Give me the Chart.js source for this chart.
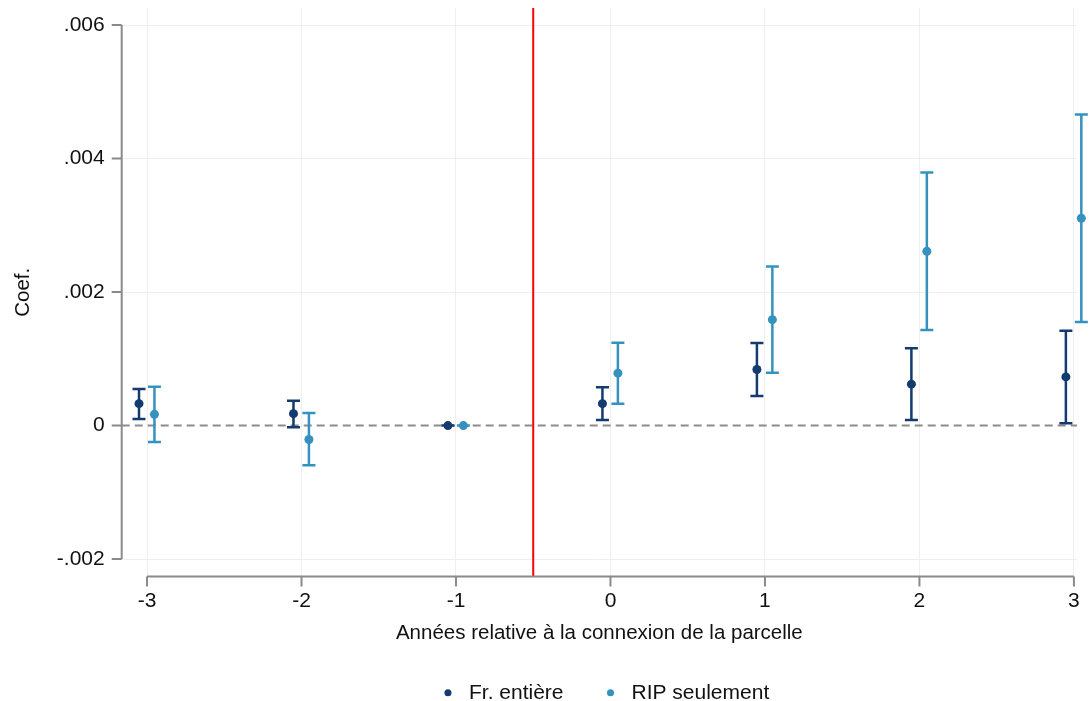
<!DOCTYPE html>
<html>
<head>
<meta charset="utf-8">
<script src="https://cdn.jsdelivr.net/npm/chart.js@4.4.0/dist/chart.umd.min.js"></script>
<style>
  html, body { margin: 0; padding: 0; background: #fff; }
  #wrap { width: 1091px; height: 701px; position: relative; }
</style>
</head>
<body>
<div id="wrap"><canvas id="chart"></canvas></div>
<script>
// relative years
const years = [-3, -2, -1, 0, 1, 2, 3];
const yTicks = [-0.002, 0, 0.002, 0.004, 0.006];

// Fr. entière
const frCoef = [0.000328, 0.000178, 0, 0.000328, 0.000839, 0.00062, 0.000729];
const frLow  = [0.000098, -0.000027, 0, 0.000083, 0.000444, 0.000083, 0.000033];
const frHigh = [0.000549, 0.000373, 0, 0.000574, 0.001236, 0.00116, 0.00142];

// RIP seulement
const ripCoef = [0.000168, -0.000208, 0, 0.000785, 0.001586, 0.00261, 0.003105];
const ripLow  = [-0.000248, -0.000594, 0, 0.000328, 0.00079, 0.00143, 0.00155];
const ripHigh = [0.000583, 0.000188, 0, 0.00124, 0.002383, 0.00379, 0.00466];

const treatLine = -0.5;
const darkBlue = "#133b6f";
const lightBlue = "#3592bf";
const axisGray = "#8a8a8a";
const FONT = "'Liberation Sans', Arial, sans-serif";

const series = [
  { label: "Fr. entière", coef: frCoef, low: frLow, high: frHigh, shift: -0.052, color: darkBlue },
  { label: "RIP seulement", coef: ripCoef, low: ripLow, high: ripHigh, shift: 0.048, color: lightBlue },
];

const fmtY = (v) => {
  const r = Math.round(v * 1000) / 1000;
  if (r === 0) return "0";
  return String(r).replace("0.", ".");
};

const stataPlugin = {
  id: "stata",
  afterLayout(chart) {
    // center the legend under the plot like stata does
    const lg = chart.legend;
    if (lg) {
      lg.left = chart.chartArea.left + 8;
      lg.right = chart.chartArea.right;
    }
  },
  beforeDatasetsDraw(chart) {
    const { ctx, chartArea, scales } = chart;
    const x = scales.x, y = scales.y;
    ctx.save();
    // zero line
    ctx.strokeStyle = "#8c8c8c";
    ctx.lineWidth = 2;
    ctx.setLineDash([8, 5]);
    ctx.beginPath();
    ctx.moveTo(chartArea.left, y.getPixelForValue(0));
    ctx.lineTo(chartArea.right, y.getPixelForValue(0));
    ctx.stroke();
    ctx.setLineDash([]);
    // treatment line
    ctx.strokeStyle = "#ff0000";
    ctx.lineWidth = 2;
    ctx.beginPath();
    ctx.moveTo(x.getPixelForValue(treatLine), chartArea.top);
    ctx.lineTo(x.getPixelForValue(treatLine), chartArea.bottom);
    ctx.stroke();
    // error bars
    series.forEach((s) => {
      ctx.strokeStyle = s.color;
      ctx.lineWidth = 2.5;
      years.forEach((yr, i) => {
        const px = x.getPixelForValue(yr + s.shift);
        const lo = y.getPixelForValue(s.low[i]);
        const hi = y.getPixelForValue(s.high[i]);
        ctx.beginPath();
        ctx.moveTo(px, lo); ctx.lineTo(px, hi);
        ctx.moveTo(px - 6.5, lo); ctx.lineTo(px + 6.5, lo);
        ctx.moveTo(px - 6.5, hi); ctx.lineTo(px + 6.5, hi);
        ctx.stroke();
      });
    });
    // axes (stata style, only over tick range)
    ctx.strokeStyle = axisGray;
    ctx.lineWidth = 2;
    const yTop = y.getPixelForValue(yTicks[yTicks.length - 1]);
    const yBot = y.getPixelForValue(yTicks[0]);
    ctx.beginPath();
    ctx.moveTo(chartArea.left, yTop);
    ctx.lineTo(chartArea.left, yBot);
    yTicks.forEach((v) => {
      const py = y.getPixelForValue(v);
      ctx.moveTo(chartArea.left, py);
      ctx.lineTo(chartArea.left - 10, py);
    });
    const xl = x.getPixelForValue(years[0]);
    const xr = x.getPixelForValue(years[years.length - 1]);
    ctx.moveTo(xl, chartArea.bottom);
    ctx.lineTo(xr, chartArea.bottom);
    years.forEach((v) => {
      const px = x.getPixelForValue(v);
      ctx.moveTo(px, chartArea.bottom);
      ctx.lineTo(px, chartArea.bottom + 10);
    });
    ctx.stroke();
    ctx.restore();
  },
};

new Chart(document.getElementById("chart"), {
  type: "scatter",
  data: {
    datasets: series.map((s) => ({
      label: s.label,
      data: years.map((yr, i) => ({ x: yr + s.shift, y: s.coef[i] })),
      backgroundColor: s.color,
      borderColor: s.color,
      pointRadius: 4.5,
      pointHoverRadius: 4.5,
      borderWidth: 0,
      clip: false,
    })),
  },
  options: {
    responsive: true,
    maintainAspectRatio: false,
    animation: false,
    layout: { padding: { top: 8, right: 14, left: 11, bottom: -12.3 } },
    plugins: {
      tooltip: { enabled: false },
      legend: {
        position: "bottom",
        labels: {
          usePointStyle: true,
          pointStyle: "circle",
          boxWidth: 21,
          boxHeight: 5,
          padding: 36.5,
          color: "#111",
          font: { family: FONT, size: 21 },
        },
      },
    },
    scales: {
      x: {
        type: "linear",
        min: -3.164,
        max: 3.02,
        afterBuildTicks: (scale) => { scale.ticks = years.map((v) => ({ value: v })); },
        afterFit: (scale) => {
          scale.height = 69.3;
          scale.paddingLeft = 0;
          scale.paddingRight = 0;
        },
        grid: { color: "#efefef", lineWidth: 1, drawTicks: false },
        border: { display: false },
        ticks: { padding: 12, color: "#111", font: { family: FONT, size: 21 } },
        title: {
          display: true,
          text: "Années relative à la connexion de la parcelle",
          color: "#111",
          font: { family: FONT, size: 20.5 },
          padding: { top: 0, bottom: 0 },
        },
      },
      y: {
        min: -0.002261,
        max: 0.006255,
        afterBuildTicks: (scale) => { scale.ticks = yTicks.map((v) => ({ value: v })); },
        afterFit: (scale) => {
          scale.width = 110.7;
          scale.paddingTop = 0;
          scale.paddingBottom = 0;
        },
        grid: {
          color: (c) => (c.tick && c.tick.value === 0 ? "rgba(0,0,0,0)" : "#efefef"),
          lineWidth: 1,
          drawTicks: false,
        },
        border: { display: false },
        ticks: { padding: 17, color: "#111", font: { family: FONT, size: 21 }, callback: (v) => fmtY(v) },
        title: {
          display: true,
          text: "Coef.",
          color: "#111",
          font: { family: FONT, size: 20.5 },
          padding: 0,
        },
      },
    },
  },
  plugins: [stataPlugin],
});
</script>
</body>
</html>
